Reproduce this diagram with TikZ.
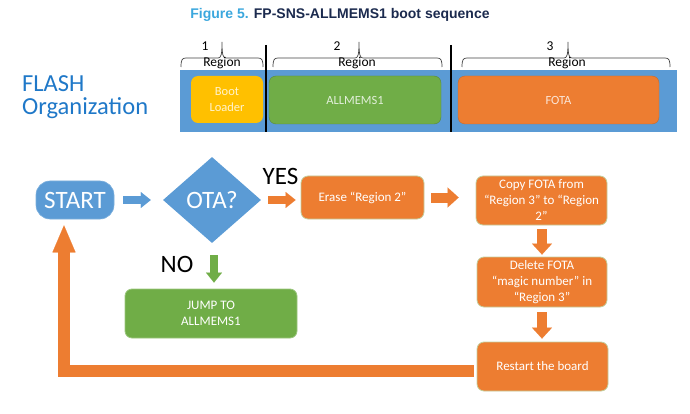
\documentclass[tikz,border=0pt]{standalone}
\usepackage{fontspec}
\setmainfont{Carlito}
\newfontfamily\arialfont{Liberation Sans}
\usetikzlibrary{shapes.geometric,arrows.meta,calc}
\definecolor{msblue}{HTML}{5B9BD5}
\definecolor{msorange}{HTML}{ED7D31}
\definecolor{msgreen}{HTML}{70AD47}
\definecolor{msyellow}{HTML}{FFC000}
\definecolor{flashblue}{HTML}{1F78C8}
\definecolor{titleblue}{HTML}{3BA7DD}
\definecolor{titlenavy}{HTML}{1B2A4E}
\definecolor{bracegray}{HTML}{404040}
\definecolor{oborder}{HTML}{C3CF9E}
\tikzset{
  flowbox/.style={rectangle, rounded corners=7pt, fill=msorange, draw=oborder, line width=0.8pt,
    text=white, align=center, inner sep=1pt, font=\fontsize{13}{16}\selectfont},
  greenbox/.style={flowbox, fill=msgreen, draw=msgreen!70!white},
  membox/.style={rectangle, rounded corners=7pt, align=center, inner sep=2pt,
    font=\fontsize{12.5}{16}\selectfont},
  bigtext/.style={font=\fontsize{25}{28}\selectfont},
  smallarrow/.style={line width=8pt, -{Triangle[width=16pt,length=10pt,line width=0.1pt]}},
  midarrow/.style={line width=10pt, -{Triangle[width=20pt,length=11pt,line width=0.1pt]}},
  regionlabel/.style={font=\fontsize{13.5}{15}\selectfont, text=black, inner sep=0pt, anchor=base},
  bracepath/.style={draw=bracegray, line width=0.7pt},
  sepline/.style={draw=black, line width=1.8pt}
}
\newcommand{\regionbrace}[3]{%
  \draw[bracepath] (#1,67) .. controls (#1,60) and (#1+1,58) .. (#1+5,58)
     -- (#2-4,58) .. controls (#2-1,58) and (#2,55) .. (#2,42)
     .. controls (#2,55) and (#2+1,58) .. (#2+4,58)
     -- (#3-5,58) .. controls (#3-1,58) and (#3,60) .. (#3,67);}
\begin{document}
\begin{tikzpicture}[x=1pt,y=-1pt]
\useasboundingbox (0,0) rectangle (690,414);

% title
\node[anchor=base, inner sep=0pt, font=\arialfont\bfseries\fontsize{14}{16}\selectfont] (title) at (340,19)
  {\textcolor{titleblue}{Figure 5.} \textcolor{titlenavy}{FP-SNS-ALLMEMS1 boot sequence}};

% flash organization label
\node[anchor=base west, inner sep=0pt, text=flashblue, font=\fontsize{24.5}{24}\selectfont] (flash1) at (22,92) {FLASH};
\node[anchor=base west, inner sep=0pt, text=flashblue, font=\fontsize{24.5}{24}\selectfont] (flash2) at (22,115) {Organization};

% flash bar
\node[rectangle, fill=msblue, minimum width=497pt, minimum height=62pt, inner sep=0pt] (bar) at (428.5,101) {};
\node[membox, fill=msyellow, minimum width=72pt, minimum height=47pt, text=white!80!msyellow] (boot) at (227,99.5) {Boot\\Loader};
\node[membox, fill=msgreen, draw=msgreen!80!black, line width=0.4pt, minimum width=172pt, minimum height=48pt, text=white!80!msgreen] (allmems) at (355,100) {ALLMEMS1};
\node[membox, fill=msorange, draw=msorange!85!black, line width=0.4pt, minimum width=201pt, minimum height=48pt, text=white!80!msorange] (fota) at (558.5,100) {FOTA};

% separators
\coordinate (s1top) at (266,45);
\coordinate (s2top) at (451,45);
\draw[sepline] (s1top) -- (s1top |- bar.south);
\draw[sepline] (s2top) -- (s2top |- bar.south);

% braces and region labels
\regionbrace{181}{222}{263}
\regionbrace{273}{359}{442}
\regionbrace{462}{568}{670}
\node[regionlabel] (r1n) at (205,51) {1};
\node[regionlabel] (r1) at (222,67) {Region};
\node[regionlabel] (r2n) at (337,51) {2};
\node[regionlabel] (r2) at (357,67) {Region};
\node[regionlabel] (r3n) at (550,51) {3};
\node[regionlabel] (r3) at (567,67) {Region};

% flow nodes
\node[rectangle, rounded corners=14pt, fill=msblue, draw=msblue!80!white, line width=0.6pt, text=white, bigtext,
  minimum width=78pt, minimum height=38pt, inner sep=0pt] (start) at (75,200) {START};
\node[diamond, fill=msblue, text=white, bigtext, minimum width=98pt, minimum height=86pt, inner sep=0pt] (ota) at (212,200) {OTA?};
\node[flowbox, minimum width=123pt, minimum height=43pt] (erase) at (362.5,197.5) {Erase “Region 2”};
\node[flowbox, minimum width=131pt, minimum height=49pt] (copy) at (541.5,200.5) {Copy FOTA from\\“Region 3” to “Region\\2”};
\node[flowbox, minimum width=130pt, minimum height=50pt] (delete) at (542,282) {Delete FOTA\\“magic number” in\\“Region 3”};
\node[flowbox, minimum width=131pt, minimum height=49pt] (restart) at (542.5,366.5) {Restart the board};
\node[greenbox, minimum width=172pt, minimum height=49pt] (jump) at (211,313.5) {JUMP TO\\ALLMEMS1};

\node[bigtext, inner sep=0pt] (yes) at (280.5,176) {YES};
\node[bigtext, inner sep=0pt] (no) at (177,264) {NO};

% arrows
\draw[smallarrow, msblue, shorten <=9pt, shorten >=12pt] (start.east) -- (ota.west);
\draw[smallarrow, msorange, shorten <=7pt, shorten >=5pt] (ota.east) -- (ota.east -| erase.west);
\draw[midarrow, msorange, shorten <=7pt, shorten >=17pt] (erase.east) -- (erase.east -| copy.west);
\draw[midarrow, msorange, shorten <=4pt, shorten >=2pt] ([xshift=0.5pt]copy.south) -- ([xshift=0.5pt]copy.south |- delete.north);
\draw[midarrow, msorange, shorten <=5pt, shorten >=3pt] (delete.south) -- (delete.south |- restart.north);
\draw[smallarrow, msgreen, shorten <=12pt, shorten >=6pt] ([xshift=2pt]ota.south) -- ([xshift=2pt]ota.south |- jump.north);

\coordinate (corner) at (64,371);
\draw[msorange, line width=12pt, line join=miter, shorten <=3pt, shorten >=6pt,
  -{Triangle[width=23pt,length=27pt,line width=0.1pt]}]
  (restart.west |- corner) -- (corner) -- (corner |- start.south);
\end{tikzpicture}
\end{document}
